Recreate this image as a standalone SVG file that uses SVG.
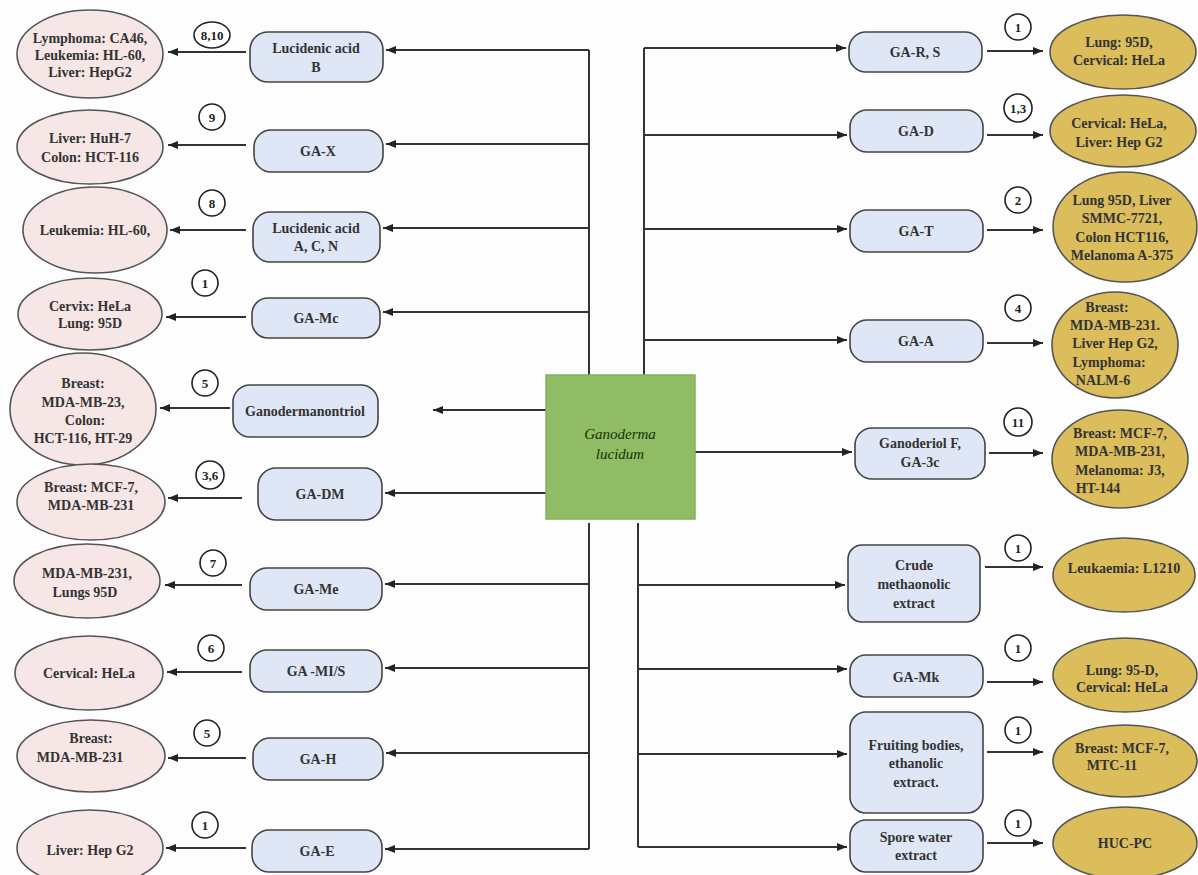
<svg xmlns="http://www.w3.org/2000/svg" width="1198" height="875" viewBox="0 0 1198 875">
<defs>
<marker id="ah" markerUnits="userSpaceOnUse" markerWidth="10" markerHeight="8" refX="10" refY="4" orient="auto"><path d="M0,0 L10,4 L0,8 z" fill="#222"/></marker>
<style>
.t{font-family:'Liberation Serif','DejaVu Serif',serif;font-size:14px;font-weight:bold;fill:#333;text-anchor:middle;dominant-baseline:central}
.pk{fill:#f7e6e6;stroke:#555;stroke-width:1.6}
.bx{fill:#dfe6f6;stroke:#444;stroke-width:1.6}
.or{fill:#dbbd5c;stroke:#555;stroke-width:1.6}
.cn{stroke:#333;stroke-width:2;fill:none}
.ar{stroke:#333;stroke-width:2;fill:none;marker-end:url(#ah)}
.ci{fill:#fff;stroke:#222;stroke-width:1.6}
.n{font-family:'Liberation Serif','DejaVu Serif',serif;font-size:13px;font-weight:bold;fill:#222;text-anchor:middle;dominant-baseline:central}
.g{font-family:'Liberation Serif','DejaVu Serif',serif;font-size:15px;font-style:italic;fill:#173208;text-anchor:middle;dominant-baseline:central}
</style>
</defs>
<rect width="1198" height="875" fill="#fdfdfd"/>

<g id="connectors">
<path class="cn" d="M589,50 V375 M589,523 V849"/>
<path class="cn" d="M644,48 V375 M638,523 V847"/>
<path class="ar" d="M589,50 H386"/>
<path class="ar" d="M589,144 H386"/>
<path class="ar" d="M589,228 H383"/>
<path class="ar" d="M589,312 H383"/>
<path class="ar" d="M546,410 H433"/>
<path class="ar" d="M546,493 H385"/>
<path class="ar" d="M589,584 H385"/>
<path class="ar" d="M589,668 H385"/>
<path class="ar" d="M589,753 H386"/>
<path class="ar" d="M589,849 H385"/>
<path class="ar" d="M246,52 H168"/>
<path class="ar" d="M246,145 H168"/>
<path class="ar" d="M246,230 H170"/>
<path class="ar" d="M246,317 H166"/>
<path class="ar" d="M230,408 H160"/>
<path class="ar" d="M242,498 H168"/>
<path class="ar" d="M242,585 H165"/>
<path class="ar" d="M242,672 H167"/>
<path class="ar" d="M246,758 H168"/>
<path class="ar" d="M246,848 H166"/>
<path class="ar" d="M644,48 H846"/>
<path class="ar" d="M644,135 H847"/>
<path class="ar" d="M644,229 H847"/>
<path class="ar" d="M644,340 H847"/>
<path class="ar" d="M695,452 H852"/>
<path class="ar" d="M638,585 H845"/>
<path class="ar" d="M638,669 H847"/>
<path class="ar" d="M638,754 H847"/>
<path class="ar" d="M638,847 H847"/>
<path class="ar" d="M987,51 H1043"/>
<path class="ar" d="M987,135 H1043"/>
<path class="ar" d="M987,230 H1043"/>
<path class="ar" d="M987,343 H1043"/>
<path class="ar" d="M989,453 H1043"/>
<path class="ar" d="M985,567 H1043"/>
<path class="ar" d="M987,682 H1043"/>
<path class="ar" d="M987,752 H1043"/>
<path class="ar" d="M987,843 H1043"/>
</g>

<g id="center"><rect x="546" y="375" width="149" height="144" fill="#8fbc64" stroke="#86ad60" stroke-width="1.5"/><text class="g" x="620" y="434">Ganoderma</text><text class="g" x="620" y="454">lucidum</text></g>

<g id="L1"><rect class="bx" x="250" y="32" width="133" height="50" rx="18"/><text class="t" x="316" y="48">Lucidenic acid</text><text class="t" x="316" y="67">B</text></g>
<g id="L2"><rect class="bx" x="254" y="130" width="129" height="42" rx="17"/><text class="t" x="318" y="151">GA-X</text></g>
<g id="L3"><rect class="bx" x="253" y="212" width="127" height="50" rx="17"/><text class="t" x="316" y="228">Lucidenic acid</text><text class="t" x="316" y="246">A, C, N</text></g>
<g id="L4"><rect class="bx" x="252" y="298" width="128" height="40" rx="16"/><text class="t" x="316" y="318">GA-Mc</text></g>
<g id="L5"><rect class="bx" x="233" y="385" width="145" height="52" rx="17"/><text class="t" x="305" y="411">Ganodermanontriol</text></g>
<g id="L6"><rect class="bx" x="258" y="468" width="124" height="52" rx="18"/><text class="t" x="320" y="494">GA-DM</text></g>
<g id="L7"><rect class="bx" x="250" y="568" width="132" height="42" rx="17"/><text class="t" x="316" y="589">GA-Me</text></g>
<g id="L8"><rect class="bx" x="250" y="650" width="132" height="42" rx="17"/><text class="t" x="316" y="671">GA -MI/S</text></g>
<g id="L9"><rect class="bx" x="253" y="738" width="130" height="42" rx="17"/><text class="t" x="318" y="759">GA-H</text></g>
<g id="L10"><rect class="bx" x="252" y="830" width="130" height="42" rx="17"/><text class="t" x="317" y="851">GA-E</text></g>

<g id="E1"><ellipse class="pk" cx="90" cy="54" rx="73" ry="44"/><text class="t" x="90" y="38">Lymphoma: CA46,</text><text class="t" x="90" y="55">Leukemia: HL-60,</text><text class="t" x="90" y="72">Liver: HepG2</text></g>
<g id="E2"><ellipse class="pk" cx="90" cy="147" rx="73" ry="37"/><text class="t" x="90" y="138">Liver: HuH-7</text><text class="t" x="90" y="157">Colon: HCT-116</text></g>
<g id="E3"><ellipse class="pk" cx="95" cy="230" rx="72" ry="43"/><text class="t" x="95" y="230">Leukemia: HL-60,</text></g>
<g id="E4"><ellipse class="pk" cx="90" cy="314" rx="72" ry="36"/><text class="t" x="90" y="306">Cervix: HeLa</text><text class="t" x="90" y="323">Lung: 95D</text></g>
<g id="E5"><ellipse class="pk" cx="83" cy="409" rx="73" ry="56"/><text class="t" x="83" y="383">Breast:</text><text class="t" x="83" y="402">MDA-MB-23,</text><text class="t" x="85" y="420">Colon:</text><text class="t" x="83" y="438">HCT-116, HT-29</text></g>
<g id="E6"><ellipse class="pk" cx="91" cy="502" rx="74" ry="38"/><text class="t" x="91" y="487">Breast: MCF-7,</text><text class="t" x="91" y="505">MDA-MB-231</text></g>
<g id="E7"><ellipse class="pk" cx="87" cy="581" rx="73" ry="37"/><text class="t" x="87" y="573">MDA-MB-231,</text><text class="t" x="85" y="592">Lungs 95D</text></g>
<g id="E8"><ellipse class="pk" cx="89" cy="673" rx="74" ry="37"/><text class="t" x="89" y="673">Cervical: HeLa</text></g>
<g id="E9"><ellipse class="pk" cx="91" cy="756" rx="74" ry="36"/><text class="t" x="91" y="738">Breast:</text><text class="t" x="80" y="757">MDA-MB-231</text></g>
<g id="E10"><ellipse class="pk" cx="90" cy="848" rx="73" ry="38"/><text class="t" x="90" y="850">Liver: Hep G2</text></g>

<g id="R1"><rect class="bx" x="849" y="32" width="133" height="40" rx="17"/><text class="t" x="915" y="52">GA-R, S</text></g>
<g id="R2"><rect class="bx" x="850" y="110" width="133" height="42" rx="17"/><text class="t" x="916" y="131">GA-D</text></g>
<g id="R3"><rect class="bx" x="850" y="210" width="133" height="42" rx="17"/><text class="t" x="916" y="231">GA-T</text></g>
<g id="R4"><rect class="bx" x="850" y="320" width="133" height="42" rx="17"/><text class="t" x="916" y="341">GA-A</text></g>
<g id="R5"><rect class="bx" x="855" y="428" width="130" height="51" rx="17"/><text class="t" x="920" y="443">Ganoderiol F,</text><text class="t" x="920" y="462">GA-3c</text></g>
<g id="R6"><rect class="bx" x="848" y="545" width="132" height="77" rx="14"/><text class="t" x="914" y="565">Crude</text><text class="t" x="914" y="584">methaonolic</text><text class="t" x="914" y="603">extract</text></g>
<g id="R7"><rect class="bx" x="850" y="655" width="133" height="42" rx="16"/><text class="t" x="916" y="677">GA-Mk</text></g>
<g id="R8"><rect class="bx" x="850" y="712" width="133" height="101" rx="16"/><text class="t" x="916" y="745">Fruiting bodies,</text><text class="t" x="916" y="763">ethanolic</text><text class="t" x="916" y="782">extract.</text></g>
<g id="R9"><rect class="bx" x="850" y="820" width="133" height="52" rx="16"/><text class="t" x="916" y="837">Spore water</text><text class="t" x="916" y="855">extract</text></g>

<g id="O1"><ellipse class="or" cx="1123" cy="52" rx="73" ry="37"/><text class="t" x="1119" y="42">Lung: 95D,</text><text class="t" x="1119" y="60">Cervical: HeLa</text></g>
<g id="O2"><ellipse class="or" cx="1123" cy="131" rx="73" ry="36"/><text class="t" x="1119" y="123">Cervical: HeLa,</text><text class="t" x="1119" y="142">Liver: Hep G2</text></g>
<g id="O3"><ellipse class="or" cx="1125" cy="227" rx="72" ry="55"/><text class="t" x="1122" y="200">Lung 95D, Liver</text><text class="t" x="1122" y="218">SMMC-7721,</text><text class="t" x="1122" y="237">Colon HCT116,</text><text class="t" x="1122" y="255">Melanoma A-375</text></g>
<g id="O4"><ellipse class="or" cx="1115" cy="345" rx="63" ry="53"/><text class="t" x="1107" y="307">Breast:</text><text class="t" x="1115" y="325">MDA-MB-231.</text><text class="t" x="1115" y="343">Liver Hep G2,</text><text class="t" x="1109" y="362">Lymphoma:</text><text class="t" x="1103" y="380">NALM-6</text></g>
<g id="O5"><ellipse class="or" cx="1120" cy="459" rx="68" ry="49"/><text class="t" x="1120" y="433">Breast: MCF-7,</text><text class="t" x="1120" y="451">MDA-MB-231,</text><text class="t" x="1120" y="470">Melanoma: J3,</text><text class="t" x="1098" y="488">HT-144</text></g>
<g id="O6"><ellipse class="or" cx="1124" cy="575" rx="71" ry="37"/><text class="t" x="1124" y="568">Leukaemia: L1210</text></g>
<g id="O7"><ellipse class="or" cx="1125" cy="675" rx="72" ry="37"/><text class="t" x="1122" y="670">Lung: 95-D,</text><text class="t" x="1122" y="687">Cervical: HeLa</text></g>
<g id="O8"><ellipse class="or" cx="1125" cy="761" rx="72" ry="36"/><text class="t" x="1122" y="748">Breast: MCF-7,</text><text class="t" x="1112" y="765">MTC-11</text></g>
<g id="O9"><ellipse class="or" cx="1125" cy="843" rx="72" ry="36"/><text class="t" x="1125" y="843">HUC-PC</text></g>

<g id="refs">
<ellipse class="ci" cx="212" cy="35" rx="18" ry="13"/><text class="n" x="212" y="35">8,10</text>
<circle class="ci" cx="212" cy="117" r="13"/><text class="n" x="212" y="117">9</text>
<circle class="ci" cx="212" cy="203" r="13"/><text class="n" x="212" y="203">8</text>
<circle class="ci" cx="205" cy="283" r="13"/><text class="n" x="205" y="283">1</text>
<circle class="ci" cx="205" cy="383" r="13"/><text class="n" x="205" y="383">5</text>
<circle class="ci" cx="210" cy="475" r="14"/><text class="n" x="210" y="475">3,6</text>
<circle class="ci" cx="213" cy="563" r="13"/><text class="n" x="213" y="563">7</text>
<circle class="ci" cx="211" cy="648" r="13"/><text class="n" x="211" y="648">6</text>
<circle class="ci" cx="207" cy="733" r="13"/><text class="n" x="207" y="733">5</text>
<circle class="ci" cx="205" cy="825" r="13"/><text class="n" x="205" y="825">1</text>
<circle class="ci" cx="1018" cy="27" r="13"/><text class="n" x="1018" y="27">1</text>
<circle class="ci" cx="1018" cy="108" r="14"/><text class="n" x="1018" y="108">1,3</text>
<circle class="ci" cx="1018" cy="200" r="13"/><text class="n" x="1018" y="200">2</text>
<circle class="ci" cx="1018" cy="308" r="13"/><text class="n" x="1018" y="308">4</text>
<circle class="ci" cx="1018" cy="422" r="14"/><text class="n" x="1018" y="422">11</text>
<circle class="ci" cx="1018" cy="548" r="13"/><text class="n" x="1018" y="548">1</text>
<circle class="ci" cx="1018" cy="648" r="13"/><text class="n" x="1018" y="648">1</text>
<circle class="ci" cx="1018" cy="730" r="13"/><text class="n" x="1018" y="730">1</text>
<circle class="ci" cx="1018" cy="823" r="13"/><text class="n" x="1018" y="823">1</text>
</g>
</svg>
